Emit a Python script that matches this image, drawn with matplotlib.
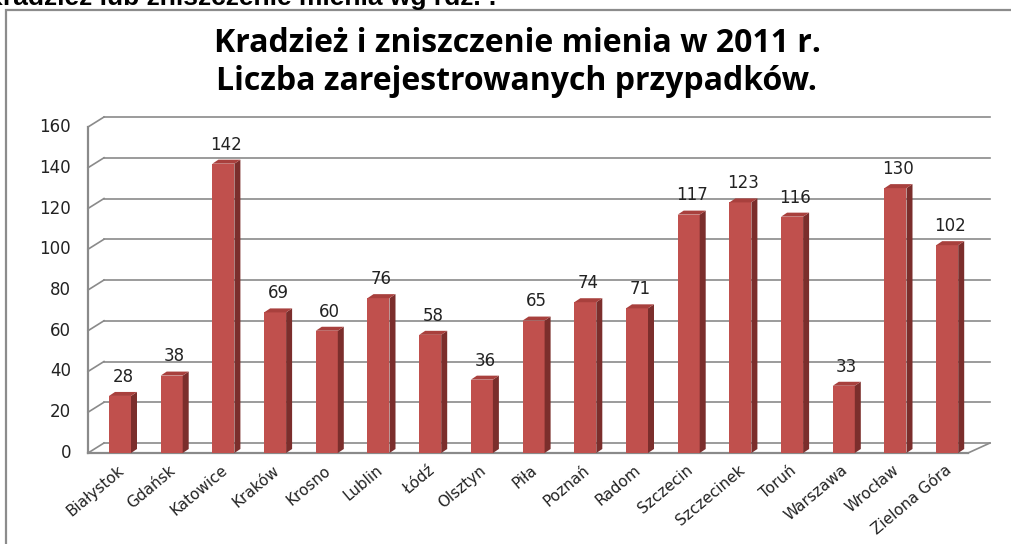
import matplotlib
matplotlib.use("Agg")
import matplotlib.pyplot as plt
from matplotlib.patches import Polygon, Rectangle
import matplotlib.transforms as mtransforms

cities = ["Białystok", "Gdańsk", "Katowice", "Kraków", "Krosno", "Lublin", "Łódź",
          "Olsztyn", "Piła", "Poznań", "Radom", "Szczecin", "Szczecinek", "Toruń",
          "Warszawa", "Wrocław", "Zielona Góra"]
cases = [28, 38, 142, 69, 60, 76, 58, 36, 65, 74, 71, 117, 123, 116, 33, 130, 102]
y_ticks = [0, 20, 40, 60, 80, 100, 120, 140, 160]

title = "Kradzież i zniszczenie mienia w 2011 r.\nLiczba zarejestrowanych przypadków."
top_cut = "Kradzież lub zniszczenie mienia wg rdz. :"

W, H = 1012, 544
fig = plt.figure(figsize=(W / 100, H / 100), dpi=100)

# outer frame of the chart object
fig.add_artist(Rectangle((6 / W, -0.02), 1.1, 1 - 10 / H + 0.02, transform=fig.transFigure,
                         fill=False, edgecolor="#8c8c8c", linewidth=1.6))
# cut-off text above the chart
fig.text(-16 / W, 1 - 5 / H, top_cut, fontsize=19, fontweight="bold",
         family="Liberation Sans", ha="left", va="baseline")

fig.text(517 / W, 1 - 62 / H, title, fontsize=23, fontweight="bold", family="Open Sans",
         ha="center", va="center", linespacing=1.2)

# axes placed in pixels: front zero at y=453, front x-axis at x=88
left_px, right_px, bot_px, top_px = 88, 995, 453, 117
ax = fig.add_axes([left_px / W, 1 - bot_px / H, (right_px - left_px) / W, (bot_px - top_px) / H])
px_x = 51.7            # pixels per category
px_y = (453 - 127) / 160.0
x0 = (left_px - 120) / px_x
x1 = (right_px - 120) / px_x
ax.set_xlim(x0, x1)
ax.set_ylim(0, (bot_px - top_px) / px_y)
ax.axis("off")

grid_c = "#8a8a8a"
dx_w, dy_w = 16 / px_x, 10 / px_y      # depth of the wall
x_end_front = (968 - 120) / px_x
x_end_back = (990 - 120) / px_x

for t in y_ticks:
    # back wall gridline
    ax.plot([x0 + dx_w, x_end_back], [t + dy_w, t + dy_w], color=grid_c, lw=1.2, clip_on=False)
    # side wall diagonal
    ax.plot([x0, x0 + dx_w], [t, t + dy_w], color=grid_c, lw=1.2, clip_on=False)
    ax.text(x0 - 17 / px_x, t, str(t), ha="right", va="center", fontsize=12,
            family="DejaVu Sans", color="#222222")
# vertical axis and front floor edge
ax.plot([x0, x0], [0, 160], color=grid_c, lw=1.6, clip_on=False)
ax.plot([x0, x_end_front], [0, 0], color=grid_c, lw=1.6, clip_on=False)
ax.plot([x_end_front, x_end_back], [0, dy_w], color=grid_c, lw=1.2, clip_on=False)

# bars with a small 3D look
bw = 22 / px_x
ddx, ddy = 6 / px_x, 4 / px_y
front_c, side_c, top_c = "#c0504d", "#7b2e2c", "#a8403d"
xs = list(range(len(cities)))
ax.bar(xs, cases, width=bw, color=front_c, edgecolor="none", zorder=3)
for x, v in zip(xs, cases):
    r = x + bw / 2
    l = x - bw / 2
    ax.add_patch(Polygon([[r, 0], [r + ddx, ddy], [r + ddx, v + ddy], [r, v]],
                         closed=True, facecolor=side_c, edgecolor="none", zorder=3))
    ax.add_patch(Polygon([[l, v], [l + ddx, v + ddy], [r + ddx, v + ddy], [r, v]],
                         closed=True, facecolor=top_c, edgecolor="none", zorder=3))
    ax.text(x + ddx / 2, v + ddy + 3, str(v), ha="center", va="bottom", fontsize=12,
            family="DejaVu Sans", color="#222222", zorder=4)

# rotated category labels
off = mtransforms.offset_copy(ax.transData, fig=fig, x=-2, y=-7, units="points")
for x, name in zip(xs, cities):
    ax.text(x, 0, name, rotation=40, ha="right", va="top", rotation_mode="anchor",
            fontsize=11, family="DejaVu Sans", color="#222222", transform=off)

fig.savefig("out.png", dpi=100)
